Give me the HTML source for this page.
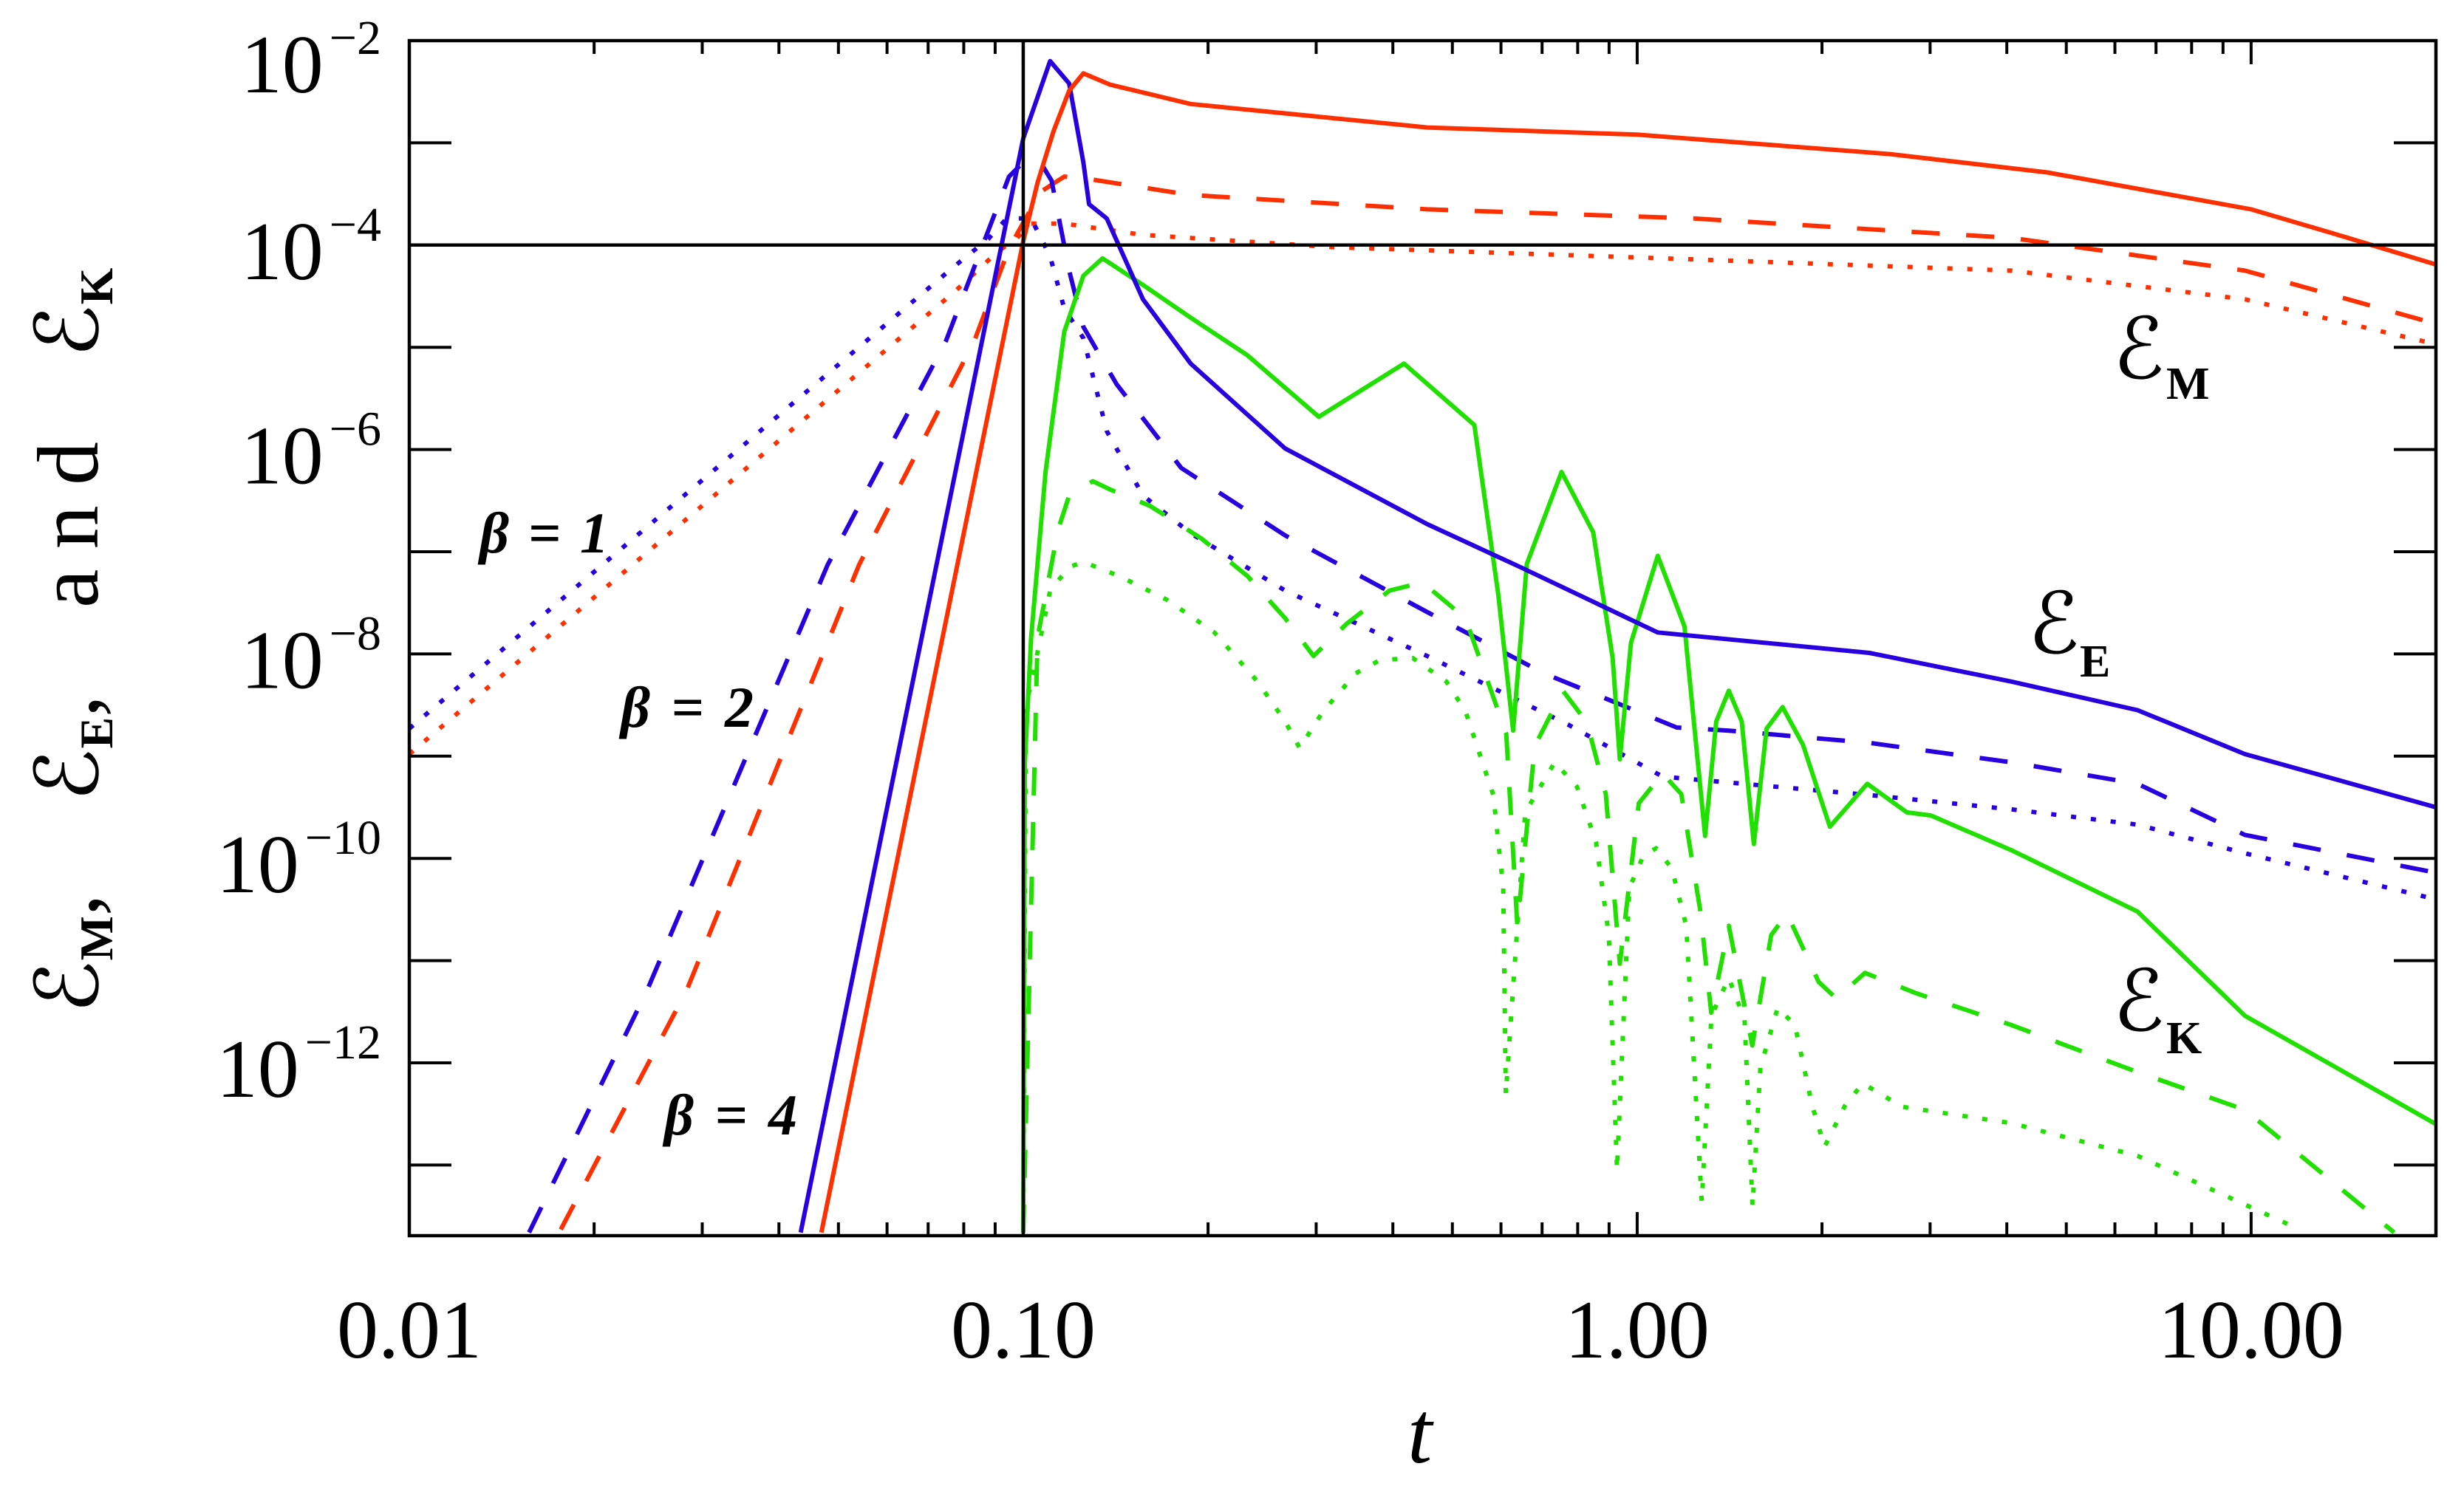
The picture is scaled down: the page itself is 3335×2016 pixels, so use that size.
<!DOCTYPE html>
<html><head><meta charset="utf-8"><style>
html,body{margin:0;padding:0;background:#fff;}
svg{display:block;}
text{font-family:"Liberation Serif","DejaVu Serif",serif;fill:#000;}
</style></head>
<body>
<svg id="chart" width="3335" height="2016" viewBox="0 0 3335 2016" xmlns="http://www.w3.org/2000/svg">
<rect x="0" y="0" width="3335" height="2016" fill="#fff"/>
<defs><clipPath id="plotclip"><rect x="554" y="55" width="2743" height="1618"/></clipPath></defs>
<g id="curves" clip-path="url(#plotclip)"></g>
<g id="axes"></g>
<g id="labels">
  <g font-family="DejaVu Serif, serif">
    <text transform="translate(132,1372) rotate(-90)" font-size="118">ℰ<tspan font-size="64" font-weight="bold" dy="20">M</tspan><tspan dy="-20">,</tspan></text>
    <text transform="translate(132,1085) rotate(-90)" font-size="118">ℰ<tspan font-size="64" font-weight="bold" dy="20">E</tspan><tspan dy="-20">,</tspan></text>
    <text transform="translate(132,823) rotate(-90)" font-size="118" font-family="Liberation Serif, serif" textLength="225">and</text>
    <text transform="translate(132,484) rotate(-90)" font-size="118">ℰ<tspan font-size="64" font-weight="bold" dy="20">K</tspan></text>
  </g>
  <text x="1905" y="1980" font-size="120" font-style="italic">t</text>
  <text x="649" y="748" font-size="78" font-style="italic" font-weight="bold" textLength="175">β=1</text>
  <text x="840" y="984" font-size="78" font-style="italic" font-weight="bold" textLength="180">β=2</text>
  <text x="899" y="1536" font-size="78" font-style="italic" font-weight="bold" textLength="180">β=4</text>
  <g><text x="2860" y="512" font-size="115" font-family="DejaVu Serif, serif" fill="#ff3000">ℰ</text><text x="2932" y="540" font-size="62" font-weight="bold" fill="#ff3000">M</text></g>
  <g><text x="2745" y="884" font-size="115" font-family="DejaVu Serif, serif" fill="#2800e0">ℰ</text><text x="2815" y="916" font-size="62" font-weight="bold" fill="#2800e0">E</text></g>
  <g><text x="2860" y="1395" font-size="115" font-family="DejaVu Serif, serif" fill="#20e000">ℰ</text><text x="2932" y="1426" font-size="62" font-weight="bold" fill="#20e000">K</text></g>
</g>
</svg>
<script>
// ---- data (t values and log10 of energy) ----
const mSolidT = [0.0469,0.1,0.1055,0.1121,0.1188,0.1253,0.1384,0.1874,0.455,1.0,2.58,4.66,10,13.5,20];
const mSolidLogE = [-13.66,-3.96,-3.39,-2.88,-2.49,-2.32,-2.43,-2.62,-2.85,-2.92,-3.11,-3.29,-3.65,-3.88,-4.19];
const eSolidT = [0.0434,0.1,0.1106,0.1188,0.1253,0.128,0.1368,0.1567,0.1874,0.267,0.455,0.645,1.08,2.39,4.07,6.53,9.77,20];
const eSolidLogE = [-13.66,-2.955,-2.20,-2.42,-3.19,-3.60,-3.74,-4.53,-5.16,-5.99,-6.73,-7.15,-7.79,-7.99,-8.27,-8.55,-8.98,-9.50];
const mDashT = [0.01765,0.0283,0.054,0.0832,0.0948,0.1067,0.1166,0.1298,0.1874,0.455,1.237,4.07,9.77,20];
const mDashLogE = [-13.63,-11.29,-7.13,-4.94,-4.03,-3.48,-3.33,-3.36,-3.51,-3.65,-3.74,-3.93,-4.25,-4.77];
const eDashT = [0.01567,0.0244,0.048,0.0748,0.0948,0.1,0.1074,0.1112,0.1188,0.1253,0.1419,0.1808,0.267,0.455,0.705,1.16,1.41,2.39,4.07,6.53,9.77,20];
const eDashLogE = [-13.66,-11.29,-7.13,-4.94,-3.33,-3.19,-3.22,-3.37,-4.25,-4.80,-5.36,-6.18,-6.84,-7.59,-8.19,-8.72,-8.75,-8.87,-9.06,-9.27,-9.77,-10.14];
const mDotT = [0.01,0.0775,0.091,0.0977,0.103,0.1166,0.1567,0.319,1.237,4.07,9.77,20];
const mDotLogE = [-8.98,-4.45,-4.06,-3.93,-3.79,-3.79,-3.90,-4.02,-4.14,-4.25,-4.53,-4.97];
const eDotT = [0.01,0.0775,0.0877,0.094,0.103,0.1106,0.1166,0.1253,0.1368,0.1567,0.1874,0.267,0.455,0.771,1.10,2.39,4.07,6.53,9.77,20];
const eDotLogE = [-8.73,-4.20,-3.94,-3.74,-3.74,-4.11,-4.62,-4.91,-5.82,-6.45,-6.82,-7.38,-8.02,-8.69,-9.20,-9.38,-9.52,-9.67,-9.95,-10.40];
const kSolidT = [0.1,0.1006,0.103,0.1087,0.1166,0.1253,0.1346,0.1567,0.1874,0.232,0.303,0.417,0.543,0.594,0.628,0.661,0.753,0.848,0.912,0.937,0.977,1.08,1.194,1.29,1.345,1.41,1.48,1.549,1.625,1.725,1.863,2.06,2.37,2.75,3.01,4.07,6.53,9.77,20];
const kSolidLogE = [-13.66,-9.07,-7.84,-6.22,-4.85,-4.30,-4.13,-4.39,-4.71,-5.08,-5.68,-5.16,-5.76,-7.42,-8.75,-7.12,-6.22,-6.81,-8.04,-9.03,-7.89,-7.04,-7.73,-9.78,-8.66,-8.36,-8.66,-9.86,-8.73,-8.52,-8.89,-9.69,-9.27,-9.55,-9.58,-9.92,-10.52,-11.54,-12.60];
const kDashT = [0.1,0.1055,0.114,0.1188,0.1298,0.1384,0.1607,0.195,0.232,0.267,0.297,0.337,0.395,0.447,0.525,0.612,0.638,0.681,0.757,0.828,0.889,0.937,1.006,1.10,1.18,1.267,1.32,1.41,1.54,1.653,1.754,1.976,2.11,2.35,2.85,4.07,6.53,9.77,17.1];
const kDashLogE = [-13.66,-7.84,-6.78,-6.45,-6.31,-6.39,-6.55,-6.87,-7.24,-7.65,-8.02,-7.70,-7.38,-7.30,-7.65,-8.78,-10.66,-8.90,-8.36,-8.67,-9.37,-11.03,-9.46,-9.17,-9.37,-10.51,-11.51,-10.66,-11.83,-10.75,-10.54,-11.21,-11.37,-11.12,-11.32,-11.63,-12.09,-12.46,-13.66];
const kDotT = [0.1,0.101,0.1067,0.1106,0.1188,0.1253,0.1436,0.1714,0.2048,0.24,0.267,0.282,0.308,0.348,0.381,0.431,0.489,0.525,0.583,0.605,0.611,0.657,0.734,0.798,0.857,0.899,0.927,0.971,1.024,1.074,1.139,1.202,1.274,1.321,1.41,1.496,1.541,1.587,1.694,1.807,1.928,2.02,2.18,2.33,2.70,4.07,6.53,11.9];
const kDotLogE = [-13.66,-8.52,-7.84,-7.38,-7.15,-7.10,-7.24,-7.47,-7.79,-8.26,-8.66,-8.92,-8.56,-8.19,-8.06,-8.04,-8.27,-8.56,-9.38,-10.29,-12.31,-9.55,-9.06,-9.30,-9.84,-10.75,-13.05,-10.29,-9.97,-9.90,-10.10,-10.66,-13.36,-11.54,-11.17,-11.58,-13.40,-12.05,-11.46,-11.63,-12.42,-12.82,-12.42,-12.20,-12.43,-12.59,-12.91,-13.62];
const xTickVals = [0.01,0.1,1,10];
const xTickLabels = ["0.01","0.10","1.00","10.00"];
const yTickExps = [-2,-4,-6,-8,-10,-12];

// ---- axis functions ----
const X0=554, X1=3297, Y0=55, Y1=1673;
const xLogMin=-2, xLogMax=Math.log10(20), yLogMax=-2, yLogMin=-2-(Y1-Y0)/138.4;
function xs(t){return X0+(Math.log10(t)-xLogMin)/(xLogMax-xLogMin)*(X1-X0);}
function ys(le){return Y0+(yLogMax-le)/(yLogMax-yLogMin)*(Y1-Y0);}

const NS="http://www.w3.org/2000/svg";
const curves=document.getElementById('curves');
const axes=document.getElementById('axes');
const RED="#ff3000", BLUE="#2800e0", GREEN="#20e000";
function series(ts, les, color, style, name){
  const p=document.createElementNS(NS,'path');
  let d='';
  for(let i=0;i<ts.length;i++){d+=(i?'L':'M')+xs(ts[i]).toFixed(1)+','+ys(les[i]).toFixed(1);}
  p.setAttribute('d',d);
  p.setAttribute('fill','none');
  p.setAttribute('stroke',color);
  p.setAttribute('stroke-width','6');
  p.setAttribute('stroke-linejoin','round');
  if(style==='dash') p.setAttribute('stroke-dasharray','38 36');
  if(style==='dot') p.setAttribute('stroke-dasharray','7 20');
  
  
  curves.appendChild(p);
}
series(mDotT,mDotLogE,RED,'dot','em-beta1-line');
series(eDotT,eDotLogE,BLUE,'dot','ee-beta1-line');
series(kDotT,kDotLogE,GREEN,'dot','ek-beta1-line');
series(mDashT,mDashLogE,RED,'dash','em-beta2-line');
series(eDashT,eDashLogE,BLUE,'dash','ee-beta2-line');
series(kDashT,kDashLogE,GREEN,'dash','ek-beta2-line');
series(kSolidT,kSolidLogE,GREEN,'solid','ek-beta4-line');
series(eSolidT,eSolidLogE,BLUE,'solid','ee-beta4-line');
series(mSolidT,mSolidLogE,RED,'solid','em-beta4-line');

function line(x1,y1,x2,y2,w,name){
  const l=document.createElementNS(NS,'line');
  l.setAttribute('x1',x1);l.setAttribute('y1',y1);l.setAttribute('x2',x2);l.setAttribute('y2',y2);
  l.setAttribute('stroke','#000');l.setAttribute('stroke-width',w);
  
  
  axes.appendChild(l);
}
line(xs(0.1),Y0,xs(0.1),Y1,4.5,'reference-line-t');
line(X0,ys(-4),X1,ys(-4),4.5,'reference-line-e');
const fr=document.createElementNS(NS,'rect');
fr.setAttribute('x',X0);fr.setAttribute('y',Y0);fr.setAttribute('width',X1-X0);fr.setAttribute('height',Y1-Y0);
fr.setAttribute('fill','none');fr.setAttribute('stroke','#000');fr.setAttribute('stroke-width','4.5');


axes.appendChild(fr);
for(let dec=-2;dec<=1;dec++){
  for(let m=1;m<=9;m++){
    const t=m*Math.pow(10,dec); if(t>20) break;
    const x=xs(t), len=(m===1)?32:18;
    line(x,Y1,x,Y1-len,4,'x-tick');
    line(x,Y0,x,Y0+len,4,'x-tick');
  }
}
for(let e=-3;e>=-13;e--){
  const y=ys(e);
  line(X0,y,X0+57,y,4,'y-tick');
  line(X1,y,X1-57,y,4,'y-tick');
}
xTickVals.forEach((v,i)=>{
  const tx=document.createElementNS(NS,'text');
  tx.setAttribute('x',xs(v));tx.setAttribute('y',1838);
  tx.setAttribute('font-size','112');tx.setAttribute('text-anchor','middle');
  tx.textContent=xTickLabels[i];
  
  
  axes.appendChild(tx);
});
yTickExps.forEach(e=>{
  const y=ys(e)+(e===-2?70:46);
  const tx=document.createElementNS(NS,'text');
  tx.setAttribute('x',516);tx.setAttribute('y',y);
  tx.setAttribute('font-size','112');tx.setAttribute('text-anchor','end');
  const a=document.createElementNS(NS,'tspan');a.textContent='10';
  const b=document.createElementNS(NS,'tspan');b.textContent='\u2212'+Math.abs(e);
  b.setAttribute('font-size','66');b.setAttribute('dy','-52');b.setAttribute('dx','8');
  tx.appendChild(a);tx.appendChild(b);
  
  
  axes.appendChild(tx);
});
</script>
</body></html>
